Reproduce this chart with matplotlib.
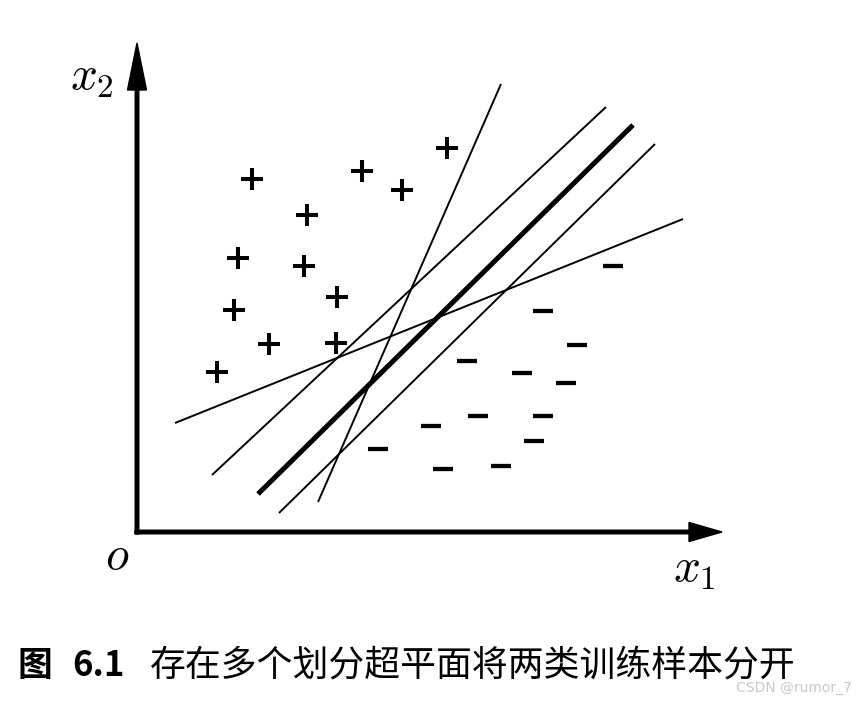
import matplotlib.pyplot as plt

plt.rcParams['mathtext.fontset'] = 'cm'

# positive samples (x1, x2)
plus_x = [115, 225, 265, 310, 170, 101, 167, 200, 97, 132, 199, 80]
plus_y = [353, 361, 342, 384, 317, 274, 266, 235, 222, 188, 189, 160]

# negative samples (x1, x2)
minus_x = [476, 406, 440, 330, 385, 429, 341, 406, 294, 241, 397, 306, 364]
minus_y = [266, 221, 187, 171, 159, 149, 116, 116, 106, 83, 91, 63, 66]

# candidate hyperplanes: (x_start, x_end), (y_start, y_end)
best_line = ([121, 496], [38, 407])
other_lines = [
    ([181, 364], [30, 448]),
    ([75, 469], [57, 425]),
    ([142, 518], [19, 388]),
    ([38, 546], [109, 313]),
]

x_axis_len = 585
y_axis_len = 489

caption_word = "图"
caption_num = "6.1"
caption_text = "存在多个划分超平面将两类训练样本分开"

cjk = ['Noto Sans CJK SC', 'DejaVu Sans']

fig = plt.figure(figsize=(8.56, 7.01), dpi=100)
ax = fig.add_axes([0, 0, 1, 1])
ax.set_xlim(-137, 719)
ax.set_ylim(-169, 532)
ax.axis('off')

# coordinate axes
ax.arrow(-2, 0, x_axis_len + 2, 0, width=3.6, head_width=19, head_length=33,
         length_includes_head=True, color='black')
ax.arrow(0, -2, 0, y_axis_len + 2, width=3.6, head_width=19, head_length=47,
         length_includes_head=True, color='black')

# hyperplanes
for xs, ys in other_lines:
    ax.plot(xs, ys, color='black', lw=1.4, solid_capstyle='butt')
ax.plot(best_line[0], best_line[1], color='black', lw=3.6, solid_capstyle='butt')

# samples
ax.plot(plus_x, plus_y, '+', color='black', markersize=15.5, markeredgewidth=2.9)
ax.plot(minus_x, minus_y, '_', color='black', markersize=15, markeredgewidth=3.1)

# labels
ax.text(-45, 454, '$x_2$', fontsize=34, ha='center', va='center')
ax.text(557, -38, '$x_1$', fontsize=34, ha='center', va='center')
ax.text(-20, -25, '$o$', fontsize=34, ha='center', va='center')

# caption
fig.text(17 / 856, 0.051, caption_word, fontsize=25, fontweight='bold',
         family=cjk, ha='left', va='center')
fig.text(72 / 856, 0.051, caption_num, fontsize=25, fontweight='bold',
         family=cjk, ha='left', va='center')
fig.text(150 / 856, 0.051, caption_text, fontsize=25.8,
         family=cjk, ha='left', va='center')
fig.text(852 / 856, 0.018, 'CSDN @rumor_7', fontsize=10, color='#c8c8c8',
         ha='right', va='center')

fig.savefig('out.png', dpi=100)
